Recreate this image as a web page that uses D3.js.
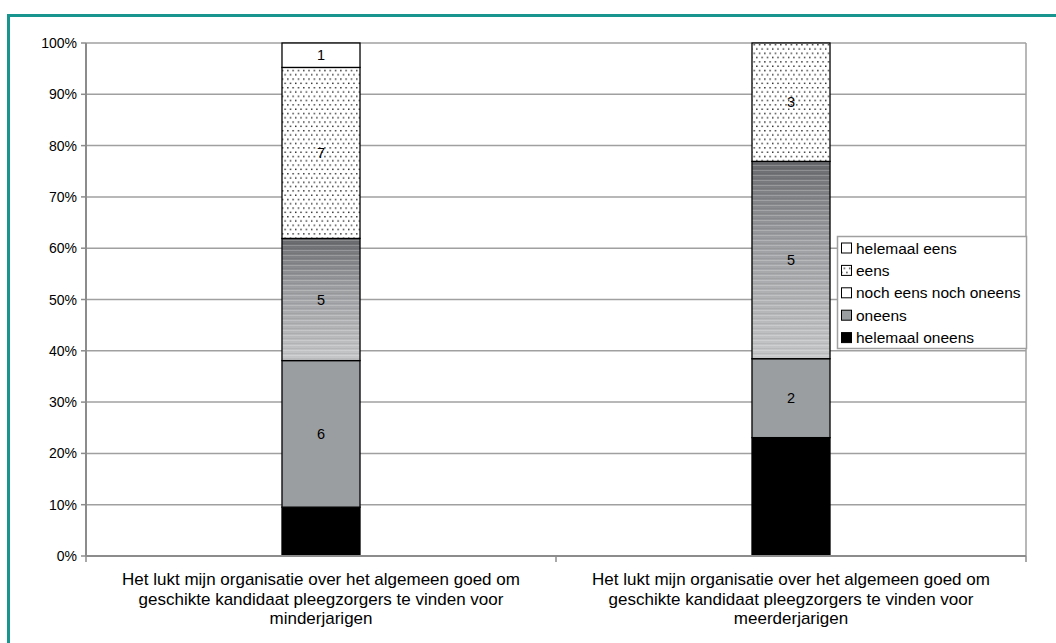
<!DOCTYPE html>
<html>
<head>
<meta charset="utf-8">
<script src="https://cdn.jsdelivr.net/npm/d3@7"></script>
<style>
  body { margin: 0; background: #fff; }
  svg { display: block; font-family: "Liberation Sans", Arial, sans-serif; }
</style>
</head>
<body>
<div id="chart"></div>
<script>
// Chart data
const categories = [
    'Het lukt mijn organisatie over het algemeen goed om|geschikte kandidaat pleegzorgers te vinden voor|minderjarigen',
    'Het lukt mijn organisatie over het algemeen goed om|geschikte kandidaat pleegzorgers te vinden voor|meerderjarigen'
];
const seriesNames = ['helemaal oneens', 'oneens', 'noch eens noch oneens', 'eens', 'helemaal eens'];
const helemaalOneens = [2, 3];
const oneens = [6, 2];
const nochNoch = [5, 5];
const eens = [7, 3];
const helemaalEens = [1, 0];
const yTickLabels = ['0%', '10%', '20%', '30%', '40%', '50%', '60%', '70%', '80%', '90%', '100%'];

const width = 1056, height = 643;
const margin = { top: 43, right: 30, bottom: 87, left: 86 };
const plotRight = width - margin.right;
const plotBottom = height - margin.bottom;

const svg = d3.select('#chart').append('svg')
    .attr('width', width)
    .attr('height', height);

// Build table for stack
const table = categories.map((c, i) => ({
    cat: c,
    'helemaal oneens': helemaalOneens[i],
    'oneens': oneens[i],
    'noch eens noch oneens': nochNoch[i],
    'eens': eens[i],
    'helemaal eens': helemaalEens[i]
}));

const stacked = d3.stack()
    .keys(seriesNames)
    .offset(d3.stackOffsetExpand)(table);

const xScale = d3.scaleBand()
    .domain(categories)
    .range([margin.left, plotRight])
    .padding(0);

const yScale = d3.scaleLinear()
    .domain([0, 1])
    .range([plotBottom, margin.top]);

const barWidth = xScale.bandwidth() * 0.166;

// Patterns and gradients
const defs = svg.append('defs');

const dots = defs.append('pattern')
    .attr('id', 'dots')
    .attr('patternUnits', 'userSpaceOnUse')
    .attr('width', 5.3)
    .attr('height', 8.6);
dots.append('rect').attr('width', 5.3).attr('height', 8.6).attr('fill', '#fff');
dots.append('rect').attr('x', 1).attr('y', 1).attr('width', 1.3).attr('height', 1.4).attr('fill', '#111');
dots.append('rect').attr('x', 3.6).attr('y', 5.3).attr('width', 1.3).attr('height', 1.4).attr('fill', '#111');

const grad = defs.append('linearGradient')
    .attr('id', 'nochGrad')
    .attr('x1', 0).attr('y1', 0)
    .attr('x2', 0).attr('y2', 1);
[['0%', '#65676a'], ['12%', '#7b7d80'], ['40%', '#9c9ea1'], ['75%', '#b4b6b8'], ['100%', '#c6c8ca']]
    .forEach(([o, c]) => grad.append('stop').attr('offset', o).attr('stop-color', c));

const stripes = defs.append('pattern')
    .attr('id', 'stripes')
    .attr('patternUnits', 'userSpaceOnUse')
    .attr('width', 8)
    .attr('height', 5);
stripes.append('rect').attr('y', 0).attr('width', 8).attr('height', 1).attr('fill', '#fff').attr('opacity', 0.22);
stripes.append('rect').attr('y', 3).attr('width', 8).attr('height', 1).attr('fill', '#000').attr('opacity', 0.06);

const fills = {
    'helemaal oneens': '#000000',
    'oneens': '#9b9ea1',
    'noch eens noch oneens': 'url(#nochGrad)',
    'eens': 'url(#dots)',
    'helemaal eens': '#ffffff'
};
const legendFills = {
    'helemaal oneens': '#000000',
    'oneens': '#9b9ea1',
    'noch eens noch oneens': '#ffffff',
    'eens': 'url(#dots)',
    'helemaal eens': '#ffffff'
};

// Teal frame
svg.append('rect')
    .attr('x', 8.5)
    .attr('y', 15.5)
    .attr('width', width + 20)
    .attr('height', height + 20)
    .attr('fill', 'none')
    .attr('stroke', '#18958f')
    .attr('stroke-width', 3);

// Grid lines
const gridG = svg.append('g').attr('class', 'grid');
d3.range(0, 11).forEach(i => {
    const y = yScale(i / 10);
    gridG.append('line')
        .attr('x1', margin.left)
        .attr('x2', plotRight)
        .attr('y1', y)
        .attr('y2', y)
        .attr('stroke', '#a0a0a0')
        .attr('stroke-width', 1.5);
});

// Plot area right border
svg.append('line')
    .attr('x1', plotRight).attr('x2', plotRight)
    .attr('y1', margin.top).attr('y2', plotBottom)
    .attr('stroke', '#a0a0a0')
    .attr('stroke-width', 1.5);

// Bars
stacked.forEach(layer => {
    const key = layer.key;
    layer.forEach((d, i) => {
        if (d[1] - d[0] <= 0) return;
        const x = xScale(categories[i]) + (xScale.bandwidth() - barWidth) / 2;
        const y0 = yScale(d[0]);
        const y1 = yScale(d[1]);
        svg.append('rect')
            .attr('x', x)
            .attr('y', y1)
            .attr('width', barWidth)
            .attr('height', y0 - y1)
            .attr('fill', fills[key]);
        if (key === 'noch eens noch oneens') {
            svg.append('rect')
                .attr('x', x)
                .attr('y', y1)
                .attr('width', barWidth)
                .attr('height', y0 - y1)
                .attr('fill', 'url(#stripes)');
        }
        svg.append('rect')
            .attr('x', x)
            .attr('y', y1)
            .attr('width', barWidth)
            .attr('height', y0 - y1)
            .attr('fill', 'none')
            .attr('stroke', '#000')
            .attr('stroke-width', 1.3);
        // Value label
        const v = table[i][key];
        svg.append('text')
            .attr('x', x + barWidth / 2)
            .attr('y', (y0 + y1) / 2)
            .attr('dy', '0.36em')
            .attr('text-anchor', 'middle')
            .attr('font-size', '14.5px')
            .attr('fill', '#000')
            .text(v);
    });
});

// Y axis
const yAxisG = svg.append('g').attr('class', 'y-axis');
yAxisG.append('line')
    .attr('x1', margin.left).attr('x2', margin.left)
    .attr('y1', margin.top).attr('y2', plotBottom)
    .attr('stroke', '#8c8c8c')
    .attr('stroke-width', 2);
yTickLabels.forEach((lab, i) => {
    const y = yScale(i / 10);
    yAxisG.append('line')
        .attr('x1', margin.left - 5).attr('x2', margin.left)
        .attr('y1', y).attr('y2', y)
        .attr('stroke', '#8c8c8c')
        .attr('stroke-width', 1.5);
    yAxisG.append('text')
        .attr('x', margin.left - 9)
        .attr('y', y)
        .attr('dy', '0.36em')
        .attr('text-anchor', 'end')
        .attr('font-size', '14px')
        .attr('fill', '#000')
        .text(lab);
});

// X axis
const xAxisG = svg.append('g').attr('class', 'x-axis');
xAxisG.append('line')
    .attr('x1', margin.left).attr('x2', plotRight)
    .attr('y1', plotBottom).attr('y2', plotBottom)
    .attr('stroke', '#8c8c8c')
    .attr('stroke-width', 2);
[margin.left, ...categories.map(c => xScale(c) + xScale.bandwidth())].forEach(x => {
    xAxisG.append('line')
        .attr('x1', x).attr('x2', x)
        .attr('y1', plotBottom).attr('y2', plotBottom + 6)
        .attr('stroke', '#8c8c8c')
        .attr('stroke-width', 1.5);
});
categories.forEach(c => {
    const cx = xScale(c) + xScale.bandwidth() / 2;
    const t = xAxisG.append('text')
        .attr('text-anchor', 'middle')
        .attr('font-size', '17px')
        .attr('fill', '#000');
    c.split('|').forEach((line, j) => {
        t.append('tspan')
            .attr('x', cx)
            .attr('y', plotBottom + 29 + j * 19.5)
            .text(line);
    });
});

// Legend
const legendX = 837, legendY = 236, legendW = 189, legendH = 112;
const legendG = svg.append('g').attr('class', 'legend');
legendG.append('rect')
    .attr('x', legendX + 0.5)
    .attr('y', legendY + 0.5)
    .attr('width', legendW)
    .attr('height', legendH)
    .attr('fill', '#fff')
    .attr('stroke', '#a0a0a0')
    .attr('stroke-width', 1.5);
seriesNames.slice().reverse().forEach((name, i) => {
    const cy = legendY + 12 + i * 22.4;
    legendG.append('rect')
        .attr('x', legendX + 4.5)
        .attr('y', cy - 5)
        .attr('width', 10)
        .attr('height', 10)
        .attr('fill', legendFills[name])
        .attr('stroke', '#000')
        .attr('stroke-width', 1);
    legendG.append('text')
        .attr('x', legendX + 19)
        .attr('y', cy)
        .attr('dy', '0.36em')
        .attr('font-size', '15.5px')
        .attr('fill', '#000')
        .text(name);
});
</script>
</body>
</html>
